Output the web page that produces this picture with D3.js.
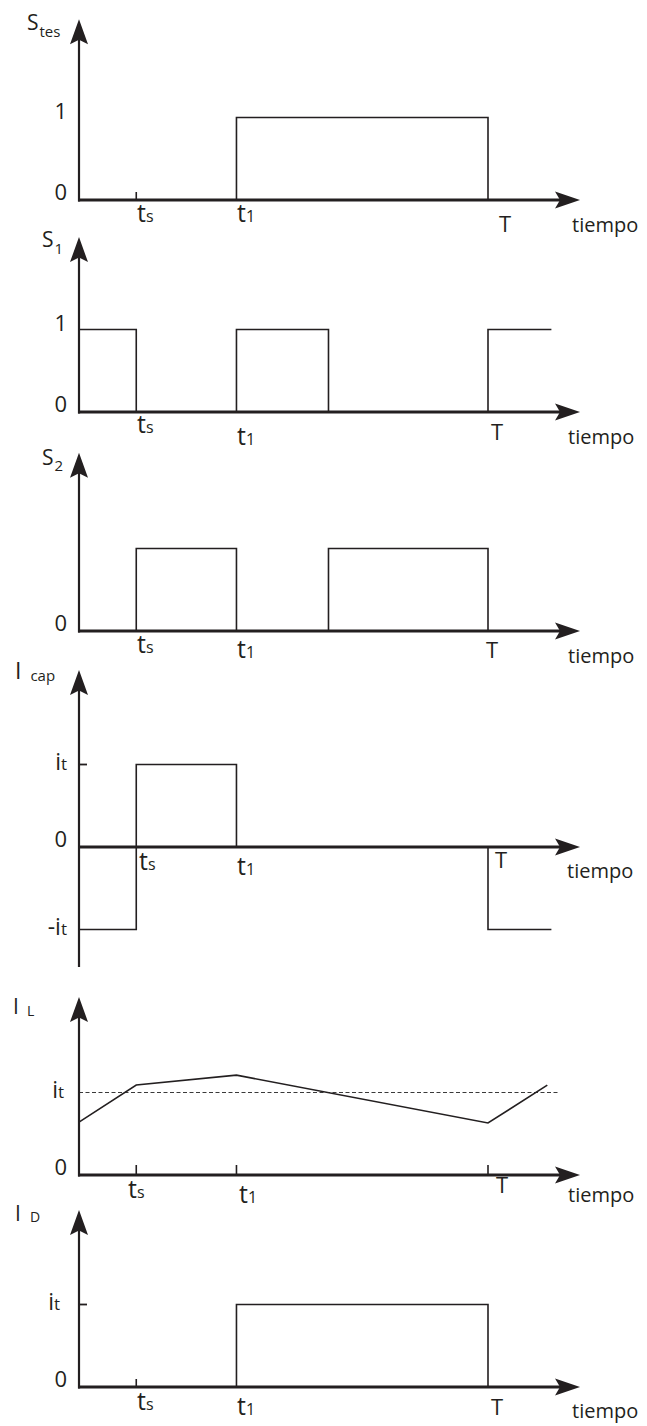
<!DOCTYPE html>
<html>
<head>
<meta charset="utf-8">
<script src="https://cdn.jsdelivr.net/npm/d3@7"></script>
<style>
  html, body { margin: 0; padding: 0; background: #fff; }
  svg { display: block; }
  text { font-family: "Open Sans", "Noto Sans", sans-serif; fill: #231f20; }
</style>
</head>
<body>
<svg id="chart" width="647" height="1426"></svg>
<script>
// Switching instants of one period (time in % of T)
const tS = 14, t1 = 38.5, t2 = 61, tT = 100, tEnd = 115.5;
const tAxisEnd = 122.5;     // where the time arrow points
const tRefEnd = 117.5;      // end of the dashed i_t reference in I_L

// Waveforms: breakpoint times and normalised levels (1 = logic 1 or i_t)
const sTesTime  = [0, t1, t1, tT, tT];
const sTesValue = [0, 0, 1, 1, 0];

const s1Time  = [0, tS, tS, t1, t1, t2, t2, tT, tT, tEnd];
const s1Value = [1, 1, 0, 0, 1, 1, 0, 0, 1, 1];

const s2Time  = [0, tS, tS, t1, t1, t2, t2, tT, tT];
const s2Value = [0, 0, 1, 1, 0, 0, 1, 1, 0];

const iCapTime  = [0, tS, tS, t1, t1, tT, tT, tEnd];
const iCapValue = [-1, -1, 1, 1, 0, 0, -1, -1];

const iLTime  = [0, tS, t1, tT, 114.5];
const iLValue = [0.64, 1.09, 1.21, 0.63, 1.09];

const iDTime  = [0, t1, t1, tT, tT];
const iDValue = [0, 0, 1, 1, 0];

// Labels
const timeTickLabels = [
  { t: tS, main: "t", sub: "s" },
  { t: t1, main: "t", sub: "1" },
  { t: tT, main: "T", sub: "" }
];
const xAxisTitle = "tiempo";
const panelTitles = [
  { main: "S", sub: "tes" },
  { main: "S", sub: "1" },
  { main: "S", sub: "2" },
  { main: "I", sub: "cap" },
  { main: "I", sub: "L" },
  { main: "I", sub: "D" }
];
const levelLabels = [
  [{ v: 1, main: "1" }, { v: 0, main: "0" }],
  [{ v: 1, main: "1" }, { v: 0, main: "0" }],
  [{ v: 0, main: "0" }],
  [{ v: 1, main: "i", sub: "t" }, { v: 0, main: "0" }, { v: -1, main: "-i", sub: "t" }],
  [{ v: 1, main: "i", sub: "t" }, { v: 0, main: "0" }],
  [{ v: 1, main: "i", sub: "t" }, { v: 0, main: "0" }]
];

// ---------------------------------------------------------------------------
const INK = "#231f20";
const svg = d3.select("#chart");
const x = d3.scaleLinear().domain([0, 100]).range([79, 488]);
const UNIT = 82.5;   // px per normalised level

// Panel geometry
const layout = [
  { base: 200,  top: 2.19, bottom: 0,     series: [sTesTime, sTesValue], xTicks: [tS],
    title: { x: 27, y: 30, dx: 1, dy: 7, big: 21, small: 15 },
    tl: { ts: [137, 22], t1: [237, 22], T: [505, 32], tiempo: [572, 32] },
    lvlX: [67, 67] },
  { base: 412,  top: 2.12, bottom: 0,     series: [s1Time, s1Value], xTicks: [],
    title: { x: 42, y: 247, dx: 1, dy: 7, big: 21, small: 15 },
    tl: { ts: [137, 21], t1: [237, 33], T: [497, 28], tiempo: [568, 32] },
    lvlX: [67, 67] },
  { base: 631,  top: 2.16, bottom: 0,     series: [s2Time, s2Value], xTicks: [],
    title: { x: 42, y: 465, dx: 1, dy: 6, big: 21, small: 15 },
    tl: { ts: [137, 22], t1: [237, 27], T: [492, 27], tiempo: [568, 32] },
    lvlX: [67] },
  { base: 847,  top: 2.145, bottom: -1.455, series: [iCapTime, iCapValue], xTicks: [],
    title: { x: 15, y: 679, dx: 9, dy: 2, big: 23, small: 15 },
    tl: { ts: [139, 23], t1: [237, 28], T: [501, 21], tiempo: [567, 31] },
    lvlX: [67, 67, 67], yTick: 1 },
  { base: 1175, top: 2.158, bottom: 0,    series: [iLTime, iLValue], xTicks: [tS, t1, tT],
    title: { x: 13, y: 1014, dx: 8, dy: 2, big: 21, small: 14 },
    tl: { ts: [128, 23], t1: [239, 28], T: [502, 18], tiempo: [568, 27] },
    lvlX: [64, 67], ref: true },
  { base: 1387, top: 2.145, bottom: 0,    series: [iDTime, iDValue], xTicks: [tS],
    title: { x: 15, y: 1221, dx: 9, dy: 1, big: 21, small: 14 },
    tl: { ts: [137, 23], t1: [237, 28], T: [497, 28], tiempo: [572, 31] },
    lvlX: [60, 67], yTick: 1 }
];

function label(g, px, py, main, sub, big, small, dy, anchor, gap) {
  const t = g.append("text").attr("x", px).attr("y", py)
    .attr("text-anchor", anchor || "start");
  t.append("tspan").attr("font-size", big).text(main);
  if (sub) {
    t.append("tspan").attr("font-size", small)
      .attr("dx", gap || 0).attr("dy", dy || 0).text(sub);
  }
  return t;
}

layout.forEach((p, i) => {
  const g = svg.append("g");
  const y = d3.scaleLinear().domain([0, 1]).range([p.base, p.base - UNIT]);
  const x0 = x(0);

  // dashed i_t reference (I_L only)
  if (p.ref) {
    g.append("line")
      .attr("x1", x(0)).attr("x2", x(tRefEnd))
      .attr("y1", y(1)).attr("y2", y(1))
      .attr("stroke", "#3a3a3a").attr("stroke-width", 1)
      .attr("stroke-dasharray", "4,2.5");
  }

  // waveform
  const pts = d3.zip(p.series[0], p.series[1]);
  g.append("path")
    .attr("d", d3.line().x(d => x(d[0])).y(d => y(d[1]))(pts))
    .attr("fill", "none").attr("stroke", INK).attr("stroke-width", 1.6)
    .attr("stroke-linejoin", "miter");

  // time axis with arrow
  const xTip = x(tAxisEnd);
  g.append("line")
    .attr("x1", x0 - 1).attr("x2", xTip - 20)
    .attr("y1", p.base).attr("y2", p.base)
    .attr("stroke", INK).attr("stroke-width", 3);
  g.append("path")
    .attr("d", `M${xTip},${p.base} L${xTip - 25},${p.base - 8.5} L${xTip - 20},${p.base} L${xTip - 25},${p.base + 8.5} Z`)
    .attr("fill", INK);

  // level axis with arrow
  const yTip = y(p.top);
  g.append("line")
    .attr("x1", x0).attr("x2", x0)
    .attr("y1", y(p.bottom) + (p.bottom === 0 ? 1.5 : 0)).attr("y2", yTip + 20)
    .attr("stroke", INK).attr("stroke-width", 2.2);
  g.append("path")
    .attr("d", `M${x0},${yTip} L${x0 - 9},${yTip + 25} L${x0},${yTip + 20.5} L${x0 + 9},${yTip + 25} Z`)
    .attr("fill", INK);

  // tick marks on the time axis
  p.xTicks.forEach(t => {
    g.append("line")
      .attr("x1", x(t)).attr("x2", x(t))
      .attr("y1", p.base).attr("y2", p.base - (i === 4 ? 10 : 8))
      .attr("stroke", INK).attr("stroke-width", 1.6);
  });
  // tick at i_t on the level axis
  if (p.yTick !== undefined) {
    g.append("line")
      .attr("x1", x0).attr("x2", x0 + 8)
      .attr("y1", y(p.yTick)).attr("y2", y(p.yTick))
      .attr("stroke", INK).attr("stroke-width", 1.8);
  }

  // time labels
  const keys = ["ts", "t1", "T"];
  timeTickLabels.forEach((tl, k) => {
    const pos = p.tl[keys[k]];
    if (tl.sub) {
      label(g, pos[0], p.base + pos[1], tl.main, tl.sub, 25, 16, 0, "start");
    } else {
      label(g, pos[0], p.base + pos[1], tl.main, "", 22, 0, 0, "middle");
    }
  });
  g.append("text")
    .attr("x", p.tl.tiempo[0]).attr("y", p.base + p.tl.tiempo[1])
    .attr("font-size", 20).text(xAxisTitle);

  // level labels
  levelLabels[i].forEach((l, k) => {
    const yy = y(l.v) + (l.v === 0 ? 0 : (l.sub ? 5 : 1));
    if (l.sub) {
      label(g, p.lvlX[k], yy, l.main, l.sub, 23, 17, 0, "end");
    } else {
      label(g, p.lvlX[k], yy, l.main, "", 22, 0, 0, "end");
    }
  });

  // panel title
  const tt = panelTitles[i];
  label(g, p.title.x, p.title.y, tt.main, tt.sub, p.title.big, p.title.small,
        p.title.dy, "start", p.title.dx);
});
</script>
</body>
</html>
